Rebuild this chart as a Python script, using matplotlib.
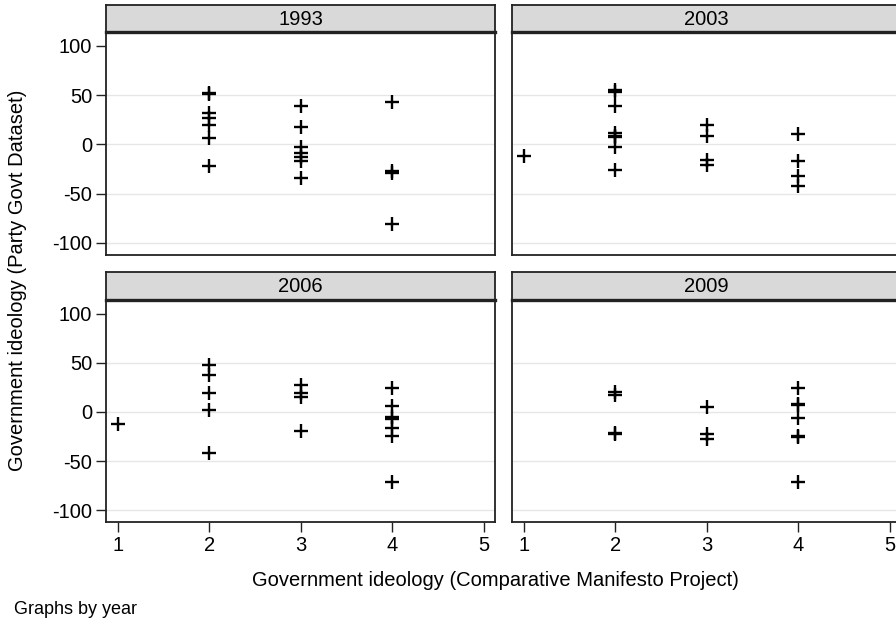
import matplotlib
matplotlib.use("Agg")
import matplotlib.pyplot as plt

plt.rcParams["font.family"] = ["Liberation Sans", "DejaVu Sans"]

# Veriler: yıl başına (CMP ideolojisi, Party Govt ideolojisi)
years = ["1993", "2003", "2006", "2009"]

x_1993 = [2, 2, 2, 2, 2, 2, 2, 3, 3, 3, 3, 3, 3, 3, 4, 4, 4, 4]
y_1993 = [52, 51, 32, 27, 20, 6, -22, 39, 18, -3, -9, -13, -17, -34, 43, -27, -29, -81]

x_2003 = [1, 2, 2, 2, 2, 2, 2, 2, 2, 3, 3, 3, 3, 4, 4, 4, 4]
y_2003 = [-12, 55, 53, 39, 12, 8, 7, -3, -26, 20, 8, -16, -21, 10, -17, -32, -42]

x_2006 = [1, 2, 2, 2, 2, 2, 3, 3, 3, 3, 4, 4, 4, 4, 4, 4, 4]
y_2006 = [-12, 48, 38, 19, 2, -42, 27, 19, 15, -19, 24, 6, -5, -7, -16, -24, -71]

x_2009 = [2, 2, 2, 2, 3, 3, 3, 4, 4, 4, 4, 4, 4, 4]
y_2009 = [20, 17, -21, -22, 5, -22, -28, 24, 8, 7, -6, -24, -25, -71]

panel_x = [x_1993, x_2003, x_2006, x_2009]
panel_y = [y_1993, y_2003, y_2006, y_2009]

y_ticks = [100, 50, 0, -50, -100]
grid_vals = [50, 0, -50, -100]
x_ticks = [1, 2, 3, 4, 5]

W, H = 896, 624
fig = plt.figure(figsize=(W / 100, H / 100), dpi=100)


def fx(px):
    return px / W


def fy(py):
    return 1 - py / H


lefts = [106, 512]
width = 389
# (şerit üstü, şerit altı / grafik üstü, grafik altı)
rows = [(4.7, 32, 254.7), (272, 300, 522)]

for i, year in enumerate(years):
    r, c = divmod(i, 2)
    st, pt, pb = rows[r]
    left = lefts[c]

    ax = fig.add_axes([fx(left), fy(pb), fx(width), (pb - pt) / H])
    ax.set_xlim(0.87, 5.12)
    ax.set_ylim(-112, 114)
    for v in grid_vals:
        ax.axhline(v, color="#e6e6e6", lw=1, zorder=0)
    ax.plot(panel_x[i], panel_y[i], linestyle="none", marker="+",
            markersize=9.5, markeredgewidth=1.7, color="black", zorder=3)
    for s in ax.spines.values():
        s.set_linewidth(1.3)
        s.set_color("#222222")

    if c == 0:
        ax.set_yticks(y_ticks)
        ax.set_yticklabels([str(v) for v in y_ticks], fontsize=14.5)
    else:
        ax.set_yticks([])
    if r == 1:
        ax.set_xticks(x_ticks)
        ax.set_xticklabels([str(v) for v in x_ticks], fontsize=14.5)
    else:
        ax.set_xticks([])
    ax.tick_params(direction="out", length=7, width=1, color="#222222", pad=3)

    # Başlık şeridi
    sax = fig.add_axes([fx(left), fy(pt), fx(width), (pt - st) / H])
    sax.set_facecolor("#d9d9d9")
    sax.set_xticks([])
    sax.set_yticks([])
    for s in sax.spines.values():
        s.set_linewidth(1.3)
        s.set_color("#222222")
    sax.spines["bottom"].set_linewidth(2.4)
    sax.text(0.5, 0.47, year, ha="center", va="center", fontsize=14.5,
             transform=sax.transAxes)

fig.text(fx(18), fy(280), "Government ideology (Party Govt Dataset)",
         rotation=90, ha="center", va="center", fontsize=14.5)
fig.text(fx(495), fy(581), "Government ideology (Comparative Manifesto Project)",
         ha="center", va="center", fontsize=14.5)
fig.text(fx(14), fy(610), "Graphs by year", ha="left", va="center", fontsize=13)

plt.savefig("out.png", dpi=100)
plt.close()
